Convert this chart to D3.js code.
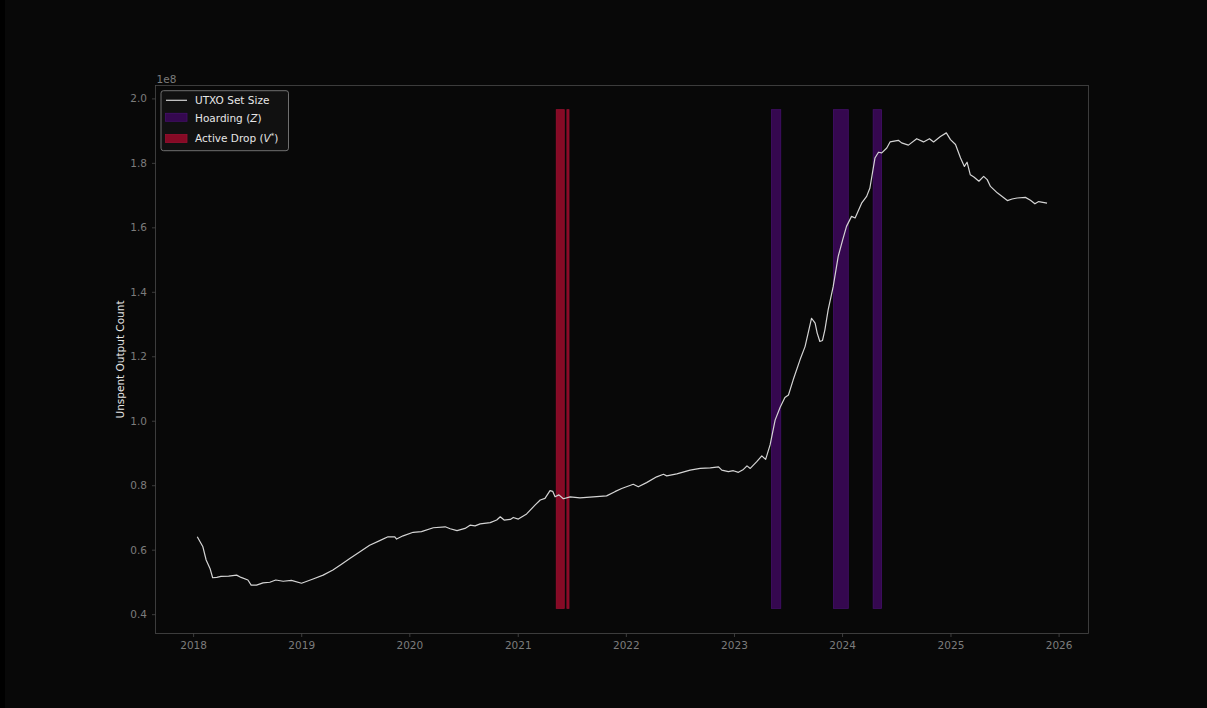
<!DOCTYPE html>
<html>
<head>
<meta charset="utf-8">
<script src="https://cdn.jsdelivr.net/npm/d3@7/dist/d3.min.js"></script>
<style>
  html, body { margin: 0; padding: 0; background: #000; }
  svg { display: block; }
  text { font-family: "DejaVu Sans", sans-serif; }
</style>
</head>
<body>
<svg id="chart" width="1207" height="708"></svg>
<script>
// UTXO set size, sampled dates and counts (in units of 1e8 outputs)
const dates = [
  "2018-01-15","2018-02-03","2018-02-14","2018-02-27","2018-03-08","2018-03-22","2018-04-05","2018-05-01",
  "2018-05-28","2018-06-12","2018-07-05","2018-07-16","2018-08-03","2018-08-25","2018-09-17","2018-10-07",
  "2018-11-01","2018-11-29","2019-01-02","2019-02-10","2019-03-16","2019-04-18","2019-05-17","2019-06-14",
  "2019-07-17","2019-08-20","2019-09-23","2019-10-21","2019-11-13","2019-11-19","2019-12-11","2020-01-14",
  "2020-02-11","2020-03-22","2020-05-01","2020-05-18","2020-06-10","2020-07-07","2020-07-24","2020-08-10",
  "2020-08-27","2020-09-30","2020-10-22","2020-11-03","2020-11-16","2020-12-07","2020-12-17","2021-01-03",
  "2021-01-31","2021-03-01","2021-03-18","2021-04-03","2021-04-20","2021-04-29","2021-05-07","2021-05-20",
  "2021-06-04","2021-06-27","2021-07-30","2021-09-13","2021-10-28","2021-11-25","2021-12-18","2022-01-26",
  "2022-02-12","2022-03-12","2022-04-15","2022-05-08","2022-05-19","2022-06-22","2022-08-06","2022-09-09",
  "2022-10-13","2022-11-10","2022-11-21","2022-12-13","2022-12-30","2023-01-16","2023-02-02","2023-02-14",
  "2023-02-25","2023-03-19","2023-04-05","2023-04-18","2023-05-03","2023-05-20","2023-06-06","2023-06-22",
  "2023-07-04","2023-07-20","2023-08-12","2023-08-29","2023-09-20","2023-10-02","2023-10-09","2023-10-18",
  "2023-10-27","2023-11-04","2023-11-15","2023-12-02","2023-12-19","2024-01-03","2024-01-16","2024-02-02",
  "2024-02-14","2024-03-07","2024-03-24","2024-04-04","2024-04-21","2024-05-03","2024-05-14","2024-05-31",
  "2024-06-11","2024-07-09","2024-07-20","2024-08-12","2024-09-09","2024-10-02","2024-10-22","2024-11-05",
  "2024-11-28","2024-12-18","2025-01-01","2025-01-18","2025-02-04","2025-02-17","2025-02-26","2025-03-09",
  "2025-03-21","2025-04-07","2025-04-23","2025-05-05","2025-05-16","2025-06-08","2025-07-12","2025-07-28",
  "2025-08-14","2025-09-11","2025-09-28","2025-10-13","2025-10-26","2025-11-23"
];
const utxo = [
  0.640,0.609,0.568,0.542,0.513,0.514,0.517,0.518,
  0.521,0.514,0.506,0.490,0.490,0.497,0.499,0.506,
  0.502,0.505,0.496,0.509,0.521,0.537,0.555,0.573,
  0.593,0.614,0.628,0.640,0.640,0.633,0.643,0.654,
  0.656,0.668,0.671,0.665,0.659,0.666,0.676,0.674,
  0.680,0.684,0.692,0.702,0.692,0.694,0.700,0.695,
  0.711,0.739,0.754,0.759,0.783,0.781,0.764,0.770,
  0.758,0.764,0.761,0.764,0.767,0.780,0.790,0.803,
  0.795,0.808,0.826,0.834,0.829,0.835,0.847,0.852,
  0.854,0.857,0.847,0.842,0.845,0.840,0.849,0.860,
  0.852,0.873,0.891,0.880,0.925,1.002,1.042,1.072,
  1.080,1.127,1.189,1.230,1.318,1.303,1.272,1.246,
  1.249,1.282,1.344,1.416,1.510,1.561,1.603,1.634,
  1.629,1.675,1.696,1.722,1.815,1.833,1.831,1.846,
  1.865,1.870,1.862,1.855,1.875,1.865,1.875,1.865,
  1.882,1.893,1.872,1.857,1.815,1.789,1.802,1.763,
  1.756,1.743,1.758,1.748,1.727,1.707,1.683,1.688,
  1.691,1.693,1.684,1.673,1.680,1.675
];

// Regime windows [start, end]
const hoardingSpans = [
  ["2023-05-08","2023-06-08"],
  ["2023-12-03","2024-01-22"],
  ["2024-04-15","2024-05-13"]
];
const activeDropSpans = [
  ["2021-05-11","2021-06-07"],
  ["2021-06-16","2021-06-23"]
];
// Vertical extent of the shaded windows (1e8 units)
const spanRange = [0.418, 1.965];

const xTickYears = [2018, 2019, 2020, 2021, 2022, 2023, 2024, 2025, 2026];
const yTicks = [0.4, 0.6, 0.8, 1.0, 1.2, 1.4, 1.6, 1.8, 2.0];

const parse = d3.timeParse("%Y-%m-%d");
const series = dates.map((d, i) => ({ date: parse(d), value: utxo[i] }));

const svg = d3.select("#chart");
const W = 1207, H = 708;
const m = { left: 155.5, right: 1088.5, top: 85.5, bottom: 633.5 };

svg.append("rect").attr("x", 5).attr("y", 0).attr("width", W - 5).attr("height", H).attr("fill", "#080808");

const x = d3.scaleTime()
  .domain([new Date(2017, 7, 27), new Date(2026, 3, 12)])
  .range([m.left, m.right]);
const y = d3.scaleLinear()
  .domain([0.34, 2.04])
  .range([m.bottom, m.top]);

const plot = svg.append("g");

// shaded regimes
function drawSpans(spans, fill, stroke) {
  plot.selectAll(null).data(spans).enter().append("rect")
    .attr("x", d => x(parse(d[0])))
    .attr("width", d => x(parse(d[1])) - x(parse(d[0])))
    .attr("y", y(spanRange[1]))
    .attr("height", y(spanRange[0]) - y(spanRange[1]))
    .attr("fill", fill)
    .attr("stroke", stroke)
    .attr("stroke-width", 0.8);
}
drawSpans(hoardingSpans, "#35084f", "#44106a");
drawSpans(activeDropSpans, "#860a25", "#9a1030");

// line
const line = d3.line().x(d => x(d.date)).y(d => y(d.value)).curve(d3.curveLinear);
plot.append("path").datum(series)
  .attr("d", line)
  .attr("fill", "none")
  .attr("stroke", "#d4d4d4")
  .attr("stroke-width", 1.2)
  .attr("stroke-linejoin", "round");

// axes
const axisColor = "#4a4a4a";
const tickTextColor = "#7c7c7c";

const xAxis = d3.axisBottom(x)
  .tickValues(xTickYears.map(yr => new Date(yr, 0, 1)))
  .tickFormat(d3.timeFormat("%Y"))
  .tickSize(3.5).tickPadding(5);
const gx = svg.append("g").attr("transform", `translate(0,${m.bottom})`).call(xAxis);

const yAxis = d3.axisLeft(y)
  .tickValues(yTicks)
  .tickFormat(d3.format(".1f"))
  .tickSize(3.5).tickPadding(5);
const gy = svg.append("g").attr("transform", `translate(${m.left},0)`).call(yAxis);

[gx, gy].forEach(g => {
  g.select(".domain").remove();
  g.selectAll("line").attr("stroke", axisColor).attr("stroke-width", 0.8);
  g.selectAll("text").attr("fill", tickTextColor).attr("font-size", "10.5px")
    .attr("font-family", "DejaVu Sans, sans-serif");
});

// spines
svg.append("rect")
  .attr("x", m.left).attr("y", m.top)
  .attr("width", m.right - m.left).attr("height", m.bottom - m.top)
  .attr("fill", "none").attr("stroke", axisColor).attr("stroke-width", 0.8);

// offset text
svg.append("text").attr("x", 156.5).attr("y", 82.5)
  .attr("fill", tickTextColor).attr("font-size", "10.5px").text("1e8");

// y label
svg.append("text")
  .attr("transform", `translate(124,${(m.top + m.bottom) / 2}) rotate(-90)`)
  .attr("text-anchor", "middle")
  .attr("fill", "#e6e6e6").attr("font-size", "10.5px")
  .text("Unspent Output Count");

// legend
const lg = svg.append("g");
lg.append("rect").attr("x", 161).attr("y", 90.7).attr("width", 127.5).attr("height", 60)
  .attr("rx", 2.5).attr("fill", "#111111").attr("stroke", "#7a7a7a").attr("stroke-width", 0.9);
lg.append("line").attr("x1", 166).attr("x2", 187).attr("y1", 100.3).attr("y2", 100.3)
  .attr("stroke", "#d4d4d4").attr("stroke-width", 1.2);
lg.append("text").attr("x", 195).attr("y", 104.2).attr("fill", "#e6e6e6").attr("font-size", "10.5px")
  .text("UTXO Set Size");
lg.append("rect").attr("x", 165.5).attr("y", 113.3).attr("width", 21.5).attr("height", 8)
  .attr("fill", "#35084f").attr("stroke", "#44106a").attr("stroke-width", 0.8);
const t2 = lg.append("text").attr("x", 195).attr("y", 122.2).attr("fill", "#e6e6e6").attr("font-size", "10.5px");
t2.append("tspan").text("Hoarding (");
t2.append("tspan").attr("font-style", "italic").text("Z");
t2.append("tspan").text(")");
lg.append("rect").attr("x", 165.5).attr("y", 134.5).attr("width", 21.5).attr("height", 8)
  .attr("fill", "#860a25").attr("stroke", "#9a1030").attr("stroke-width", 0.8);
const t3 = lg.append("text").attr("x", 195).attr("y", 142.2).attr("fill", "#e6e6e6").attr("font-size", "10.5px");
t3.append("tspan").text("Active Drop (");
t3.append("tspan").attr("font-style", "italic").text("V");
t3.append("tspan").attr("font-size", "7px").attr("dy", "-4").text("*");
t3.append("tspan").attr("dy", "4").text(")");
</script>
</body>
</html>
